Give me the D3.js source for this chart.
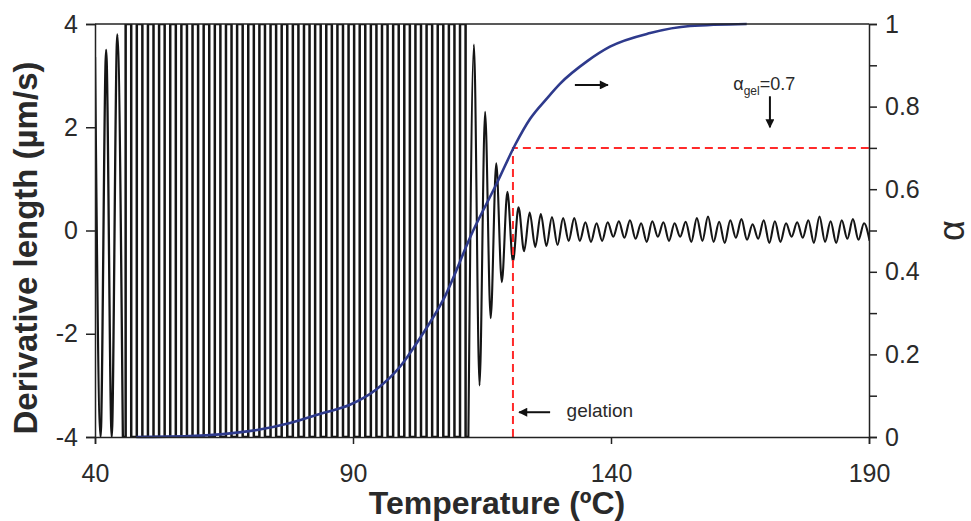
<!DOCTYPE html>
<html>
<head>
<meta charset="utf-8">
<script src="https://cdn.jsdelivr.net/npm/d3@7"></script>
<style>
  body { margin: 0; background: #fff; }
  svg { display: block; }
  text { font-family: "Liberation Sans", Arial, sans-serif; }
</style>
</head>
<body>
<svg id="chart" width="971" height="521"></svg>
<script>
// derivative length signal: successive peaks (alternating up / down), one every derivStep degC
var derivStartT = 40;
var derivStep = 1.08;
var derivPeaks = [
  3.36, -4, 3.5, -4, 3.8, -4, 4, -4, 4, -4,
  4, -4, 4, -4, 4, -4, 4, -4, 4, -4,
  4, -4, 4, -4, 4, -4, 4, -4, 4, -4,
  4, -4, 4, -4, 4, -4, 4, -4, 4, -4,
  4, -4, 4, -4, 4, -4, 4, -4, 4, -4,
  4, -4, 4, -4, 4, -4, 4, -4, 4, -4,
  4, -4, 4, -4, 4, -4, 4, -4,
  // damping near gelation
  3.6, -3.0, 2.3, -1.7, 1.3, -1.0, 0.75, -0.6, 0.45, -0.4,
  0.35, -0.32,
  // after gelation
  0.32, -0.3, 0.26, -0.28, 0.24, -0.2, 0.24, -0.2, 0.16, -0.22,
  0.14, -0.2, 0.16, -0.12, 0.18, -0.14, 0.2, -0.16, 0.14, -0.22,
  0.18, -0.12, 0.16, -0.2, 0.14, -0.12, 0.17, -0.22, 0.24, -0.2,
  0.27, -0.22, 0.17, -0.24, 0.2, -0.14, 0.22, -0.18, 0.12, -0.16,
  0.2, -0.24, 0.18, -0.22, 0.14, -0.12, 0.16, -0.14, 0.2, -0.24,
  0.27, -0.22, 0.18, -0.24, 0.2, -0.16, 0.22, -0.18, 0.14, -0.2
];

// degree of cure alpha vs temperature
var alphaT = [48, 58.4, 64.8, 71.4, 77.8, 84.2, 89.4, 94.5, 99.1, 103, 107.4, 113.3, 117.9, 121.4, 124.3, 127.6, 130.1, 135.4, 139.8, 147.6, 155.3, 166.3];
var alphaV = [0, 0.002, 0.007, 0.017, 0.034, 0.058, 0.078, 0.115, 0.17, 0.24, 0.33, 0.5, 0.615, 0.707, 0.77, 0.82, 0.855, 0.91, 0.945, 0.978, 0.995, 1.0];

var gelT = 121;
var gelAlpha = 0.7;

var xTicks = [40, 90, 140, 190];
var yLeftTicks = [-4, -2, 0, 2, 4];
var yRightTicks = [0, 0.1, 0.2, 0.3, 0.4, 0.5, 0.6, 0.7, 0.8, 0.9, 1];
var yRightLabels = ['0', '0.2', '0.4', '0.6', '0.8', '1'];

var svg = d3.select('#chart');
var M = {left: 95, right: 869, top: 24, bottom: 437};

var x = d3.scaleLinear().domain([40, 190]).range([M.left, M.right]);
var yL = d3.scaleLinear().domain([-4, 4]).range([M.bottom, M.top]);
var yR = d3.scaleLinear().domain([0, 1]).range([M.bottom, M.top]);

svg.append('defs').append('clipPath').attr('id', 'plotclip')
  .append('rect')
  .attr('x', M.left).attr('y', M.top)
  .attr('width', M.right - M.left).attr('height', M.bottom - M.top);

var arrowHead = svg.select('defs').append('marker')
  .attr('id', 'head')
  .attr('viewBox', '0 0 10 10')
  .attr('refX', 9).attr('refY', 5)
  .attr('markerWidth', 5).attr('markerHeight', 4.5)
  .attr('markerUnits', 'strokeWidth')
  .attr('orient', 'auto');
arrowHead.append('path').attr('d', 'M0,0 L10,5 L0,10 z').attr('fill', '#111');

// derivative signal
var deriv = derivPeaks.map(function(v, i) { return {t: derivStartT + i * derivStep, v: v}; });
// while the signal runs off the +-4 window its strokes look like straight vertical bars,
// elsewhere it is drawn as a smooth trace
var firstSat = -1, lastSat = 0;
deriv.forEach(function(d, i) {
  if (Math.abs(d.v) >= 4) {
    lastSat = i;
    if (firstSat < 0 && Math.abs(deriv[i + 1].v) >= 4) firstSat = i;
  }
});

var satLine = d3.line()
  .x(function(d) { return x(d.t); })
  .y(function(d) { return yL(d.v); })
  .curve(d3.curveStep);
var traceLine = d3.line()
  .x(function(d) { return x(d.t); })
  .y(function(d) { return yL(d.v); })
  .curve(d3.curveMonotoneX);

var gSig = svg.append('g').attr('clip-path', 'url(#plotclip)')
  .attr('fill', 'none').attr('stroke', '#151515');
gSig.append('path')
  .attr('d', traceLine(deriv.slice(0, firstSat + 1)))
  .attr('stroke-width', 2.3);
gSig.append('path')
  .attr('d', satLine(deriv.slice(firstSat, lastSat + 1)))
  .attr('stroke-width', 2.5);
gSig.append('path')
  .attr('d', traceLine(deriv.slice(lastSat)))
  .attr('stroke-width', 2.1);

// gelation dashed lines
svg.append('path')
  .attr('d', 'M' + x(gelT) + ',' + yR(0) + 'V' + yR(gelAlpha) + 'H' + x(190))
  .attr('fill', 'none')
  .attr('stroke', '#ff2a2a')
  .attr('stroke-width', 2)
  .attr('stroke-dasharray', '8,5');

// alpha curve
var alphaData = alphaT.map(function(t, i) { return {t: t, a: alphaV[i]}; });
var alphaLine = d3.line()
  .x(function(d) { return x(d.t); })
  .y(function(d) { return yR(d.a); })
  .curve(d3.curveMonotoneX);

svg.append('path')
  .attr('d', alphaLine(alphaData))
  .attr('fill', 'none')
  .attr('stroke', '#2e3a8c')
  .attr('stroke-width', 2.6);

// frame top line
svg.append('line')
  .attr('x1', M.left).attr('x2', M.right)
  .attr('y1', M.top).attr('y2', M.top)
  .attr('stroke', '#222').attr('stroke-width', 1.5);

// axes
var xAxis = d3.axisBottom(x).tickValues(xTicks).tickSize(7).tickPadding(20)
  .tickFormat(function(d) { return String(d); });
var gx = svg.append('g').attr('transform', 'translate(0,' + M.bottom + ')').call(xAxis);

var yAxisL = d3.axisLeft(yL).tickValues(yLeftTicks).tickSize(9).tickPadding(8)
  .tickFormat(function(d) { return String(d); });
var gyl = svg.append('g').attr('transform', 'translate(' + M.left + ',0)').call(yAxisL);

var yAxisR = d3.axisRight(yR).tickValues(yRightTicks).tickSize(8).tickPadding(8)
  .tickFormat(function(d) {
    var s = d3.format('.1f')(d).replace(/\.0$/, '');
    return yRightLabels.indexOf(s) >= 0 ? s : '';
  });
var gyr = svg.append('g').attr('transform', 'translate(' + M.right + ',0)').call(yAxisR);

[gx, gyl, gyr].forEach(function(g) {
  g.select('.domain').attr('stroke', '#222').attr('stroke-width', 1.5);
  g.selectAll('.tick line').attr('stroke', '#222').attr('stroke-width', 1.5);
  g.selectAll('.tick text')
    .attr('fill', '#2a2a2a')
    .style('font-size', '25px')
    .style('font-family', '"Liberation Sans", Arial, sans-serif');
});

// axis titles
svg.append('text')
  .attr('x', 497).attr('y', 514)
  .attr('text-anchor', 'middle')
  .style('font-size', '32px').style('font-weight', 'bold')
  .attr('fill', '#2a2a2a')
  .text('Temperature (ºC)');

svg.append('text')
  .attr('transform', 'translate(37,248) rotate(-90)')
  .attr('text-anchor', 'middle')
  .style('font-size', '33px').style('font-weight', 'bold')
  .attr('fill', '#2a2a2a')
  .text('Derivative length (µm/s)');

svg.append('text')
  .attr('transform', 'translate(964,' + yL(0) + ') rotate(-90)')
  .attr('text-anchor', 'middle')
  .style('font-size', '36px')
  .attr('fill', '#2a2a2a')
  .text('α');

// annotations
function arrow(x1, y1, x2, y2) {
  svg.append('line')
    .attr('x1', x1).attr('y1', y1).attr('x2', x2).attr('y2', y2)
    .attr('stroke', '#111').attr('stroke-width', 2)
    .attr('marker-end', 'url(#head)');
}
arrow(x(133), yL(2.82), x(139.4), yL(2.82));
arrow(x(128.2), yL(-3.52), x(122.2), yL(-3.52));
arrow(x(170.8), yR(0.825), x(170.8), yR(0.75));

svg.append('text')
  .attr('x', x(131.4)).attr('y', yL(-3.62))
  .style('font-size', '19px')
  .attr('fill', '#2a2a2a')
  .text('gelation');

var lab = svg.append('text')
  .attr('x', x(163.7)).attr('y', yR(0.84))
  .style('font-size', '18px')
  .attr('fill', '#2a2a2a');
lab.append('tspan').text('α');
lab.append('tspan').attr('dy', 5).style('font-size', '12px').text('gel');
lab.append('tspan').attr('dy', -5).text('=0.7');
</script>
</body>
</html>
